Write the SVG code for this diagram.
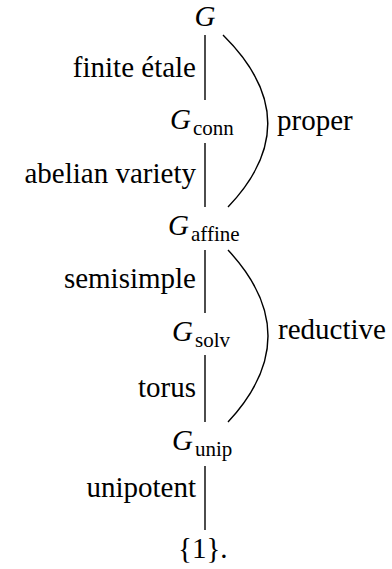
<svg xmlns="http://www.w3.org/2000/svg" width="392" height="569" viewBox="0 0 392 569">
<style>
.e{stroke:#000;stroke-width:1.4;fill:none}
</style>
<rect width="392" height="569" fill="#fff"/>
<g font-family="Liberation Serif, DejaVu Serif, serif" fill="#000">
<g id="connectors">
<line class="e" x1="205" y1="35" x2="205" y2="100"/>
<line class="e" x1="205" y1="143" x2="205" y2="207"/>
<line class="e" x1="205" y1="250" x2="205" y2="313"/>
<line class="e" x1="205" y1="355" x2="205" y2="422"/>
<line class="e" x1="205" y1="466" x2="205" y2="530"/>
<path class="e" d="M223 35 Q310 121 228 207"/>
<path class="e" d="M228 250 Q308 336 228 422"/>
<g font-size="29" text-anchor="end">
<text x="196" y="77">finite étale</text>
<text x="196" y="183">abelian variety</text>
<text x="196" y="288">semisimple</text>
<text x="196" y="397">torus</text>
<text x="196" y="497">unipotent</text>
</g>
<text font-size="29" x="277" y="130">proper</text>
<text font-size="29" x="278" y="339">reductive</text>
</g>
<g id="G"><text font-size="29" font-style="italic" x="205" y="26" text-anchor="middle">G</text></g>
<g id="Gconn"><text font-size="29" font-style="italic" x="170" y="129">G</text><text font-size="21" x="193" y="135">conn</text></g>
<g id="Gaffine"><text font-size="29" font-style="italic" x="168" y="235">G</text><text font-size="21" x="191" y="241">affine</text></g>
<g id="Gsolv"><text font-size="29" font-style="italic" x="172" y="341">G</text><text font-size="21" x="195" y="347">solv</text></g>
<g id="Gunip"><text font-size="29" font-style="italic" x="172" y="450">G</text><text font-size="21" x="195" y="456">unip</text></g>
<g id="one"><text font-size="29" x="178" y="558">{1}.</text></g>
</g>
</svg>
